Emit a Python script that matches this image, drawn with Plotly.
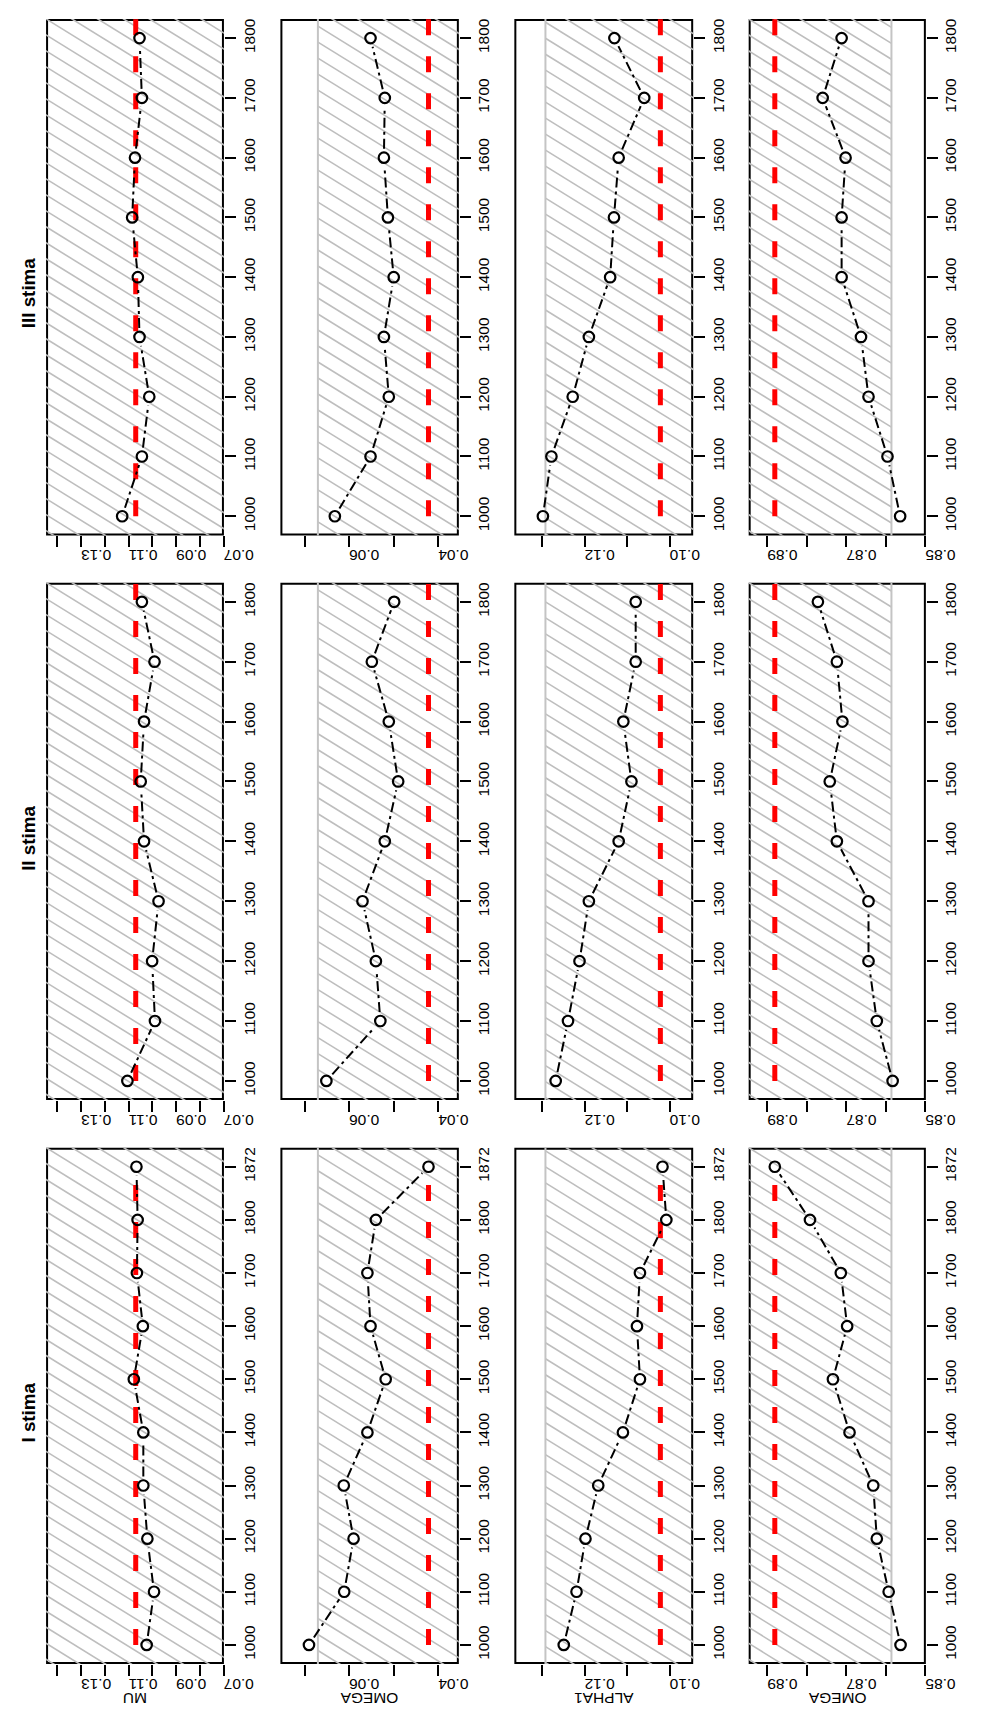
import math
import plotly.graph_objects as go

W, H = 984, 1709

# ---------------- data ----------------
SIZES_I = ["1000", "1100", "1200", "1300", "1400", "1500", "1600", "1700", "1800", "1872"]
SIZES_II = ["1000", "1100", "1200", "1300", "1400", "1500", "1600", "1700", "1800"]
SIZES_III = ["1000", "1100", "1200", "1300", "1400", "1500", "1600", "1700", "1800"]

STIME = ["I stima", "II stima", "III stima"]
PARAMS = ["MU", "OMEGA", "ALPHA1", "OMEGA"]

TRUE_VALUES = [0.107, 0.0422, 0.1022, 0.8881]
BAND_LOW = [0.05, 0.03, 0.09, 0.8586]
BAND_HIGH = [0.16, 0.0670, 0.1292, 0.91]

MU_I = [0.1024, 0.0993, 0.1021, 0.1038, 0.1038, 0.1078, 0.1040, 0.1065, 0.1062, 0.1067]
OMEGA_I = [0.0690, 0.0611, 0.0590, 0.0612, 0.0559, 0.0518, 0.0552, 0.0559, 0.0540, 0.0422]
ALPHA1_I = [0.1249, 0.1219, 0.1198, 0.1168, 0.1110, 0.1070, 0.1077, 0.1070, 0.1008, 0.1017]
BETA_I = [0.8563, 0.8593, 0.8623, 0.8632, 0.8692, 0.8734, 0.8698, 0.8714, 0.8792, 0.8881]

MU_II = [0.1105, 0.0989, 0.1001, 0.0974, 0.1035, 0.1049, 0.1035, 0.0991, 0.1044]
OMEGA_II = [0.0651, 0.0530, 0.0540, 0.0570, 0.0520, 0.0490, 0.0511, 0.0549, 0.0499]
ALPHA1_II = [0.1268, 0.1239, 0.1212, 0.1190, 0.1120, 0.1090, 0.1109, 0.1080, 0.1080]
BETA_II = [0.8583, 0.8623, 0.8644, 0.8644, 0.8724, 0.8742, 0.8710, 0.8724, 0.8772]

MU_III = [0.1127, 0.1044, 0.1013, 0.1054, 0.1061, 0.1085, 0.1073, 0.1044, 0.1054]
OMEGA_III = [0.0632, 0.0552, 0.0511, 0.0522, 0.0500, 0.0513, 0.0522, 0.0520, 0.0552]
ALPHA1_III = [0.1298, 0.1278, 0.1228, 0.1190, 0.1140, 0.1131, 0.1120, 0.1060, 0.1130]
BETA_III = [0.8564, 0.8596, 0.8644, 0.8663, 0.8712, 0.8712, 0.8702, 0.8760, 0.8712]

VALUE_TICKS = [
    [0.07, 0.08, 0.09, 0.10, 0.11, 0.12, 0.13, 0.14],
    [0.04, 0.05, 0.06, 0.07],
    [0.10, 0.11, 0.12, 0.13],
    [0.85, 0.86, 0.87, 0.88, 0.89],
]
VALUE_TICK_TEXT = [
    ["0.07", "", "0.09", "", "0.11", "", "0.13", ""],
    ["0.04", "", "0.06", ""],
    ["0.10", "", "0.12", ""],
    ["0.85", "", "0.87", "", "0.89"],
]

SERIES = [
    [MU_I, OMEGA_I, ALPHA1_I, BETA_I],
    [MU_II, OMEGA_II, ALPHA1_II, BETA_II],
    [MU_III, OMEGA_III, ALPHA1_III, BETA_III],
]
SIZES = [SIZES_I, SIZES_II, SIZES_III]

# ---------------- layout geometry (pixels) ----------------
COL_PX = [(39.3, 222.7), (281.0, 465.0), (522.3, 706.7), (764.0, 946.7)]
ROW_PX = [(1139.3, 1656.0), (574.0, 1091.7), (10.0, 526.7)]  # (top, bottom)
TITLE_Y_PX = [1404, 830, 284]
VALUE_RANGES = [(0.1447, 0.0699), (0.0754, 0.0354), (0.1365, 0.0945), (0.8947, 0.8499)]


def index_range(n):
    ext = 0.04 * (n - 1)
    return (1 - ext, n + ext)


INDEX_RANGES = [index_range(len(s)) for s in SIZES]

FONT = "Liberation Sans, Arial, Helvetica, sans-serif"
TICK_FONT_SIZE = 15.5
HATCH_SLOPE = 0.6
HATCH_STEP = 16.0
HATCH_COLOR = "#BEBEBE"


def px_x(v, c):
    L, R = COL_PX[c]
    a, b = VALUE_RANGES[c]
    return L + (a - v) / (a - b) * (R - L)


def val_x(p, c):
    L, R = COL_PX[c]
    a, b = VALUE_RANGES[c]
    return a - (p - L) / (R - L) * (a - b)


def px_y(i, r):
    T, B = ROW_PX[r]
    lo, hi = INDEX_RANGES[r]
    return B - (i - lo) / (hi - lo) * (B - T)


def idx_y(p, r):
    T, B = ROW_PX[r]
    lo, hi = INDEX_RANGES[r]
    return lo + (B - p) / (B - T) * (hi - lo)


def hatch_lines(r, c):
    L, R = COL_PX[c]
    T, B = ROW_PX[r]
    pa = px_x(BAND_HIGH[c], c)
    pb = px_x(BAND_LOW[c], c)
    x0, x1 = min(pa, pb), max(pa, pb)
    pad = 4.0
    x0 = L - pad if x0 <= L else x0
    x1 = R + pad if x1 >= R else x1
    t, b = T - pad, B + pad
    m = HATCH_SLOPE
    base = T - m * L
    k0 = math.floor((t - m * x1 - base) / HATCH_STEP) - 1
    k1 = math.ceil((b - m * x0 - base) / HATCH_STEP) + 1
    xs, ys = [], []
    for k in range(k0, k1 + 1):
        cc = base + k * HATCH_STEP
        xa = max(x0, (t - cc) / m)
        xb = min(x1, (b - cc) / m)
        if xb > xa:
            xs += [val_x(xa, c), val_x(xb, c), None]
            ys += [idx_y(m * xa + cc, r), idx_y(m * xb + cc, r), None]
    return xs, ys


def gapped_segments(vals, r, c, gap=9.0):
    xs, ys = [], []
    for i in range(len(vals) - 1):
        ax, ay = px_x(vals[i], c), px_y(i + 1, r)
        bx, by = px_x(vals[i + 1], c), px_y(i + 2, r)
        d = math.hypot(bx - ax, by - ay)
        if d <= 2 * gap:
            continue
        ux, uy = (bx - ax) / d, (by - ay) / d
        sx, sy = ax + ux * gap, ay + uy * gap
        ex, ey = bx - ux * gap, by - uy * gap
        xs += [val_x(sx, c), val_x(ex, c), None]
        ys += [idx_y(sy, r), idx_y(ey, r), None]
    return xs, ys


fig = go.Figure()
layout = dict(
    width=W, height=H,
    margin=dict(l=0, r=0, t=0, b=0),
    paper_bgcolor="white",
    plot_bgcolor="rgba(0,0,0,0)",
    showlegend=False,
    font=dict(family=FONT, color="black", size=TICK_FONT_SIZE),
)
shapes = []
annotations = []

for r in range(3):
    n = len(SIZES[r])
    for c in range(4):
        k = r * 4 + c + 1
        xa_name = "x" if k == 1 else f"x{k}"
        ya_name = "y" if k == 1 else f"y{k}"
        L, R = COL_PX[c]
        T, B = ROW_PX[r]
        idx = list(range(1, n + 1))
        lo, hi = INDEX_RANGES[r]

        # hatching of the band
        hx, hy = hatch_lines(r, c)
        fig.add_trace(go.Scatter(x=hx, y=hy, mode="lines", xaxis=xa_name, yaxis=ya_name,
                                 line=dict(color=HATCH_COLOR, width=1.6), hoverinfo="skip"))
        # band borders
        for bv in (BAND_LOW[c], BAND_HIGH[c]):
            a, b = VALUE_RANGES[c]
            if min(a, b) < bv < max(a, b):
                fig.add_trace(go.Scatter(x=[bv, bv], y=[lo - 1, hi + 1], mode="lines",
                                         xaxis=xa_name, yaxis=ya_name,
                                         line=dict(color="#C4C4C4", width=2), hoverinfo="skip"))
        # true value
        fig.add_trace(go.Scatter(x=[TRUE_VALUES[c]] * len(SIZES_I), y=list(range(1, len(SIZES_I) + 1)),
                                 mode="lines", xaxis=xa_name, yaxis=ya_name,
                                 line=dict(color="#FF0000", width=5, dash="16px,21px"),
                                 hoverinfo="skip"))
        # estimates: lines with gaps + open circles
        vals = SERIES[r][c]
        gx, gy = gapped_segments(vals, r, c)
        fig.add_trace(go.Scatter(x=gx, y=gy, mode="lines", xaxis=xa_name, yaxis=ya_name,
                                 line=dict(color="black", width=2, dash="10px,4px,3px,4px"),
                                 hoverinfo="skip"))
        fig.add_trace(go.Scatter(x=vals, y=idx, mode="markers", xaxis=xa_name, yaxis=ya_name,
                                 marker=dict(symbol="circle-open", size=10.5, color="black",
                                             line=dict(width=2.2, color="black")),
                                 cliponaxis=False, hoverinfo="skip"))

        xkey = "xaxis" if k == 1 else f"xaxis{k}"
        ykey = "yaxis" if k == 1 else f"yaxis{k}"
        layout[xkey] = dict(
            domain=[L / W, R / W], anchor=ya_name, range=list(VALUE_RANGES[c]),
            tickmode="array", tickvals=VALUE_TICKS[c], ticktext=VALUE_TICK_TEXT[c],
            tickangle=180, ticks="outside", ticklen=11, tickwidth=1.8, tickcolor="black",
            showline=False, showgrid=False, zeroline=False, fixedrange=True,
            tickfont=dict(family=FONT, size=TICK_FONT_SIZE, color="black"),
        )
        layout[ykey] = dict(
            domain=[1 - B / H, 1 - T / H], anchor=xa_name, side="right",
            range=[lo, hi], tickmode="array", tickvals=idx, ticktext=SIZES[r],
            tickangle=-90, ticks="outside", ticklen=11, tickwidth=1.8, tickcolor="black",
            showline=False, showgrid=False, zeroline=False, fixedrange=True,
            tickfont=dict(family=FONT, size=TICK_FONT_SIZE, color="black"),
        )
        # panel box (inside the plotting area, under the hatching)
        ix, iy = 1.0 / (R - L), 1.0 / (B - T)
        shapes.append(dict(type="rect", xref=f"{xa_name} domain", yref=f"{ya_name} domain",
                           x0=ix, x1=1 - ix, y0=iy, y1=1 - iy,
                           line=dict(color="black", width=2), fillcolor="rgba(0,0,0,0)",
                           layer="below"))

# titles for each estimation
for r in range(3):
    annotations.append(dict(text=f"<b>{STIME[r]}</b>", xref="paper", yref="paper",
                            x=21 / W, y=1 - TITLE_Y_PX[r] / H, showarrow=False,
                            textangle=-90, font=dict(family=FONT, size=18.8, color="black"),
                            xanchor="center", yanchor="middle"))
# parameter labels under the first-estimation panels
for c in range(4):
    L, R = COL_PX[c]
    annotations.append(dict(text=PARAMS[c], xref="paper", yref="paper",
                            x=(L + R) / 2 / W, y=1 - 1691 / H, showarrow=False,
                            textangle=180, font=dict(family=FONT, size=TICK_FONT_SIZE, color="black"),
                            xanchor="center", yanchor="middle", borderpad=0))

layout["shapes"] = shapes
layout["annotations"] = annotations
fig.update_layout(**layout)
fig.write_html("out.html")
